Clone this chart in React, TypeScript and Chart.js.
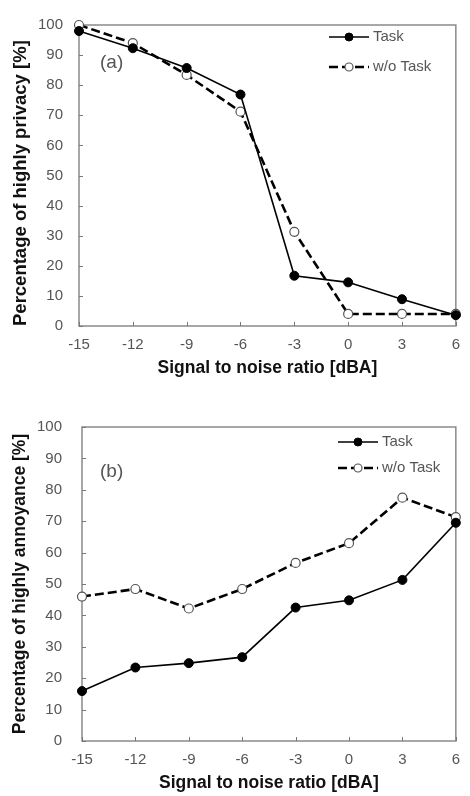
import React, { useEffect, useRef } from 'react';
import { Chart, registerables } from 'chart.js';
Chart.register(...registerables);

// ---------- data ----------
const snrValues = [-15, -12, -9, -6, -3, 0, 3, 6];
const privacyTask = [98, 92.3, 85.7, 76.9, 16.7, 14.5, 8.9, 3.6];
const privacyNoTask = [100, 94, 83.4, 71.2, 31.3, 4, 4, 4];
const annoyTask = [15.9, 23.4, 24.8, 26.7, 42.5, 44.8, 51.3, 69.5];
const annoyNoTask = [46, 48.4, 42.2, 48.4, 56.7, 63, 77.5, 71.3];
const seriesNames = ['Task', 'w/o Task'];
const xTitle = 'Signal to noise ratio [dBA]';
const yTitleA = 'Percentage of highly privacy [%]';
const yTitleB = 'Percentage of highly annoyance [%]';
const panelA = '(a)';
const panelB = '(b)';

const FONT = "'Liberation Sans', Arial, sans-serif";

const decorPlugin = {
  id: 'decor',
  beforeDatasetsDraw(chart: any, _args: any, opts: any) {
    const { ctx, chartArea: a, scales } = chart;
    ctx.save();
    ctx.strokeStyle = '#8a8a8a';
    ctx.lineWidth = 1.5;
    ctx.strokeRect(a.left, a.top, a.right - a.left, a.bottom - a.top);
    ctx.lineWidth = 1;
    ctx.strokeStyle = '#777';
    scales.y.ticks.forEach((t: any) => {
      const py = Math.round(scales.y.getPixelForValue(t.value)) + 0.5;
      ctx.beginPath();
      ctx.moveTo(a.left, py);
      ctx.lineTo(a.left + 4, py);
      ctx.stroke();
    });
    scales.x.ticks.forEach((t: any) => {
      const px = Math.round(scales.x.getPixelForValue(t.value)) + 0.5;
      ctx.beginPath();
      ctx.moveTo(px, a.bottom);
      ctx.lineTo(px, a.bottom - 4);
      ctx.stroke();
    });
    ctx.restore();
  },
  afterDatasetsDraw(chart: any, _args: any, opts: any) {
    const { ctx } = chart;
    ctx.save();
    // panel label
    ctx.fillStyle = '#555';
    ctx.font = `19px ${FONT}`;
    ctx.textBaseline = 'middle';
    ctx.textAlign = 'left';
    ctx.fillText(opts.label, opts.labelX, opts.labelY);
    // legend
    chart.data.datasets.forEach((ds: any, i: number) => {
      const y = opts.legendY + i * opts.legendGap;
      const x0 = opts.legendX;
      const x1 = x0 + opts.lineLen;
      ctx.strokeStyle = ds.borderColor;
      ctx.lineWidth = ds.borderWidth;
      ctx.setLineDash(ds.borderDash || []);
      ctx.beginPath();
      ctx.moveTo(x0, y);
      ctx.lineTo(x1, y);
      ctx.stroke();
      ctx.setLineDash([]);
      ctx.beginPath();
      ctx.arc((x0 + x1) / 2, y, ds.pointRadius - 0.5, 0, Math.PI * 2);
      ctx.fillStyle = ds.pointBackgroundColor;
      ctx.fill();
      ctx.lineWidth = ds.pointBorderWidth;
      ctx.strokeStyle = ds.pointBorderColor;
      ctx.stroke();
      ctx.fillStyle = '#555';
      ctx.font = `15px ${FONT}`;
      ctx.textAlign = 'left';
      ctx.fillText(ds.label, x1 + 4, y);
    });
    ctx.restore();
  },
};

function makeConfig(
  task: number[],
  noTask: number[],
  yTitle: string,
  lay: any,
  decor: any
): any {
  const toPts = (arr: number[]) => arr.map((v, i) => ({ x: snrValues[i], y: v }));
  return {
    type: 'line',
    data: {
      datasets: [
        {
          label: seriesNames[0],
          data: toPts(task),
          borderColor: '#000',
          borderWidth: 1.6,
          pointRadius: 4.5,
          pointBackgroundColor: '#000',
          pointBorderColor: '#000',
          pointBorderWidth: 1,
          tension: 0,
          clip: false,
        },
        {
          label: seriesNames[1],
          data: toPts(noTask),
          borderColor: '#000',
          borderWidth: 2.6,
          borderDash: [9, 4],
          pointRadius: 4.5,
          pointBackgroundColor: '#fff',
          pointBorderColor: '#555',
          pointBorderWidth: 1.2,
          tension: 0,
          clip: false,
        },
      ],
    },
    options: {
      animation: false,
      responsive: false,
      maintainAspectRatio: false,
      layout: { padding: { top: lay.top, right: lay.right, left: 0, bottom: 0 } },
      plugins: {
        legend: { display: false },
        tooltip: { enabled: false },
        decor,
      },
      scales: {
        x: {
          type: 'linear',
          min: -15,
          max: 6,
          afterFit: (s: any) => { s.height = lay.xHeight; },
          ticks: { stepSize: 3, color: '#555', font: { family: FONT, size: 15 }, padding: 10, maxRotation: 0 },
          grid: { display: false, drawTicks: false },
          border: { display: false },
          title: {
            display: true,
            text: xTitle,
            color: '#111',
            font: { family: FONT, size: 17.5, weight: 'bold' },
            padding: { top: 0, bottom: lay.xTitlePad },
          },
        },
        y: {
          min: 0,
          max: 100,
          afterFit: (s: any) => { s.width = lay.yWidth; },
          ticks: { stepSize: 10, color: '#555', font: { family: FONT, size: 15 }, padding: lay.yTickPad },
          grid: { display: false, drawTicks: false },
          border: { display: false },
          title: {
            display: true,
            text: yTitle,
            align: lay.yAlign,
            color: '#111',
            font: { family: FONT, size: lay.yTitleSize, weight: 'bold' },
            padding: { top: 20.5 - lay.yTitleSize * 0.6, bottom: 0 },
          },
        },
      },
    },
    plugins: [decorPlugin],
  };
}

function ChartCanvas({ config, top }: { config: () => any; top: number }) {
  const ref = useRef<HTMLCanvasElement | null>(null);
  useEffect(() => {
    if (!ref.current) return;
    const c = new Chart(ref.current, config());
    return () => c.destroy();
  }, []);
  return (
    <canvas
      ref={ref}
      width={470}
      height={398}
      style={{ position: 'absolute', left: 0, top, width: 470, height: 398 }}
    />
  );
}

export default function App() {
  const cfgA = () =>
    makeConfig(
      privacyTask,
      privacyNoTask,
      yTitleA,
      { top: 13, right: 11, xHeight: 72, xTitlePad: 19.5, yWidth: 79, yTickPad: 16, yAlign: 'start', yTitleSize: 18.5 },
      { label: panelA, labelX: 100, labelY: 63, legendX: 329, legendY: 37, legendGap: 30, lineLen: 40 }
    );
  const cfgB = () =>
    makeConfig(
      annoyTask,
      annoyNoTask,
      yTitleB,
      { top: 23, right: 5, xHeight: 55, xTitlePad: 2.5, yWidth: 82, yTickPad: 20, yAlign: 'center', yTitleSize: 17.5 },
      { label: panelB, labelX: 100, labelY: 74, legendX: 338, legendY: 44, legendGap: 26, lineLen: 40 }
    );
  return (
    <div style={{ position: 'fixed', left: 0, top: 0, width: 470, height: 796, background: '#fff', overflow: 'hidden' }}>
      <ChartCanvas config={cfgA} top={0} />
      <ChartCanvas config={cfgB} top={398} />
    </div>
  );
}
